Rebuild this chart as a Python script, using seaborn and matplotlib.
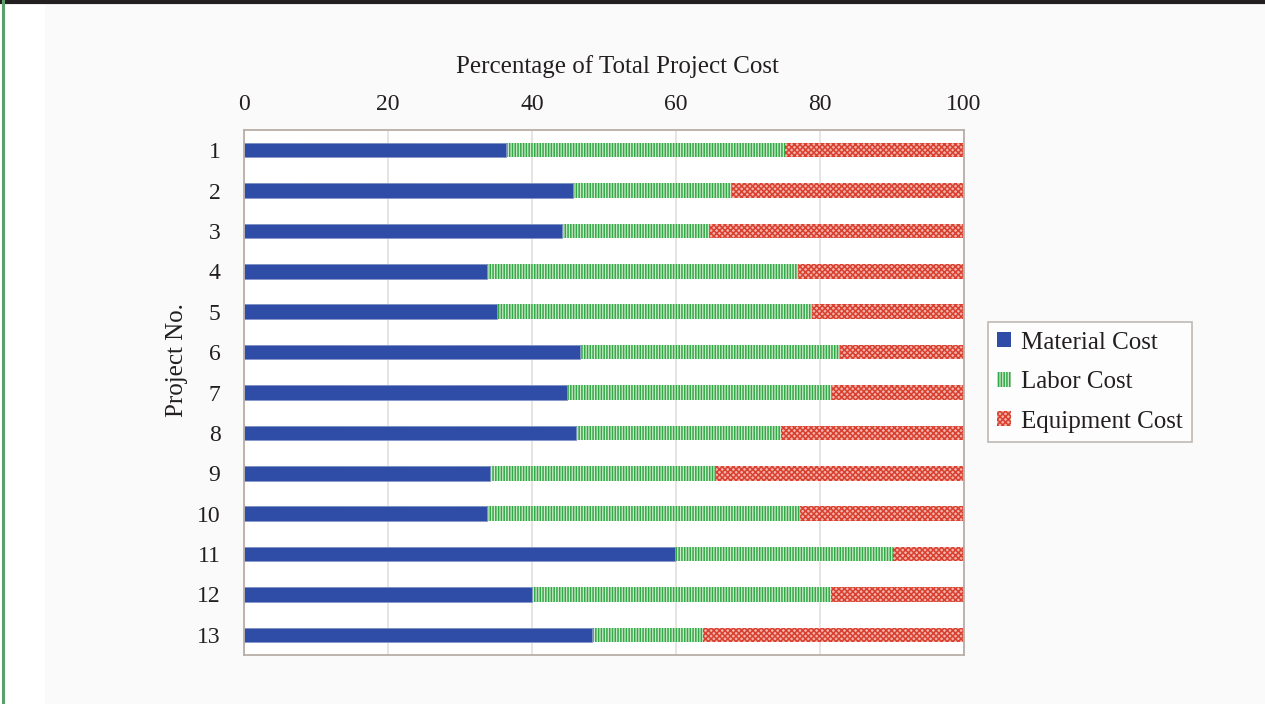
import matplotlib
matplotlib.use("Agg")
import matplotlib.pyplot as plt
from matplotlib.patches import Patch, Rectangle
from matplotlib.lines import Line2D
import seaborn as sns
import pandas as pd
import numpy as np

# Cost breakdown per project (percent of total project cost)
projects = ["1", "2", "3", "4", "5", "6", "7", "8", "9", "10", "11", "12", "13"]
material = [36.4, 45.7, 44.2, 33.8, 35.1, 46.6, 44.9, 46.1, 34.2, 33.7, 59.8, 40.0, 48.4]
labor = [38.7, 22.1, 20.5, 43.2, 43.8, 36.2, 36.8, 28.5, 31.4, 43.5, 30.3, 41.5, 15.4]
equipment = [24.9, 32.2, 35.3, 23.0, 21.1, 17.2, 18.3, 25.4, 34.4, 22.8, 9.9, 18.5, 36.2]
series_names = ["Material Cost", "Labor Cost", "Equipment Cost"]

sns.set_theme(style="white")
plt.rcParams["font.family"] = ["Liberation Serif", "DejaVu Serif"]
plt.rcParams["hatch.linewidth"] = 1.1

df = pd.DataFrame({"project": projects, "material": material,
                   "labor": labor, "equipment": equipment})
df["mat_lab"] = df["material"] + df["labor"]
df["total"] = df["mat_lab"] + df["equipment"]

fig = plt.figure(figsize=(12.65, 7.04), dpi=100, facecolor="#fafafa")
# page frame: white margin at left, dark rule on top, green rule on left
fig.patches.append(Rectangle((0, 0), 45 / 1265, 1, transform=fig.transFigure,
                             facecolor="white", edgecolor="none", zorder=0))
fig.lines.append(Line2D([0, 1], [1 - 1.5 / 704] * 2, transform=fig.transFigure,
                        color="#231f20", lw=3))
fig.lines.append(Line2D([2.5 / 1265] * 2, [0, 1], transform=fig.transFigure,
                        color="#5aa06c", lw=2.2))

ax = fig.add_axes([244 / 1265, 1 - 655 / 704, 720 / 1265, 525 / 704])
ax.set_facecolor("white")

styles = {
    "Material Cost": dict(facecolor="#2f4ca6", edgecolor="#8896cc", hatch=None, linewidth=0.6),
    "Labor Cost": dict(facecolor="#cfeccb", edgecolor="#33a848", hatch="||||||", linewidth=0.0),
    "Equipment Cost": dict(facecolor="#f2b3aa", edgecolor="#d9402f", hatch="xxxxxx", linewidth=0.0),
}

# stacked bars drawn as overlapping cumulative totals
layers = [("total", "Equipment Cost"), ("mat_lab", "Labor Cost"), ("material", "Material Cost")]
for col, name in layers:
    st = styles[name]
    sns.barplot(data=df, y="project", x=col, orient="h", ax=ax, width=0.36,
                color=st["facecolor"], saturation=1, errorbar=None)
    for bar in ax.patches[-len(df):]:
        bar.set_facecolor(st["facecolor"])
        bar.set_edgecolor(st["edgecolor"])
        bar.set_linewidth(st["linewidth"])
        if st["hatch"]:
            bar.set_hatch(st["hatch"])

ax.set_xlim(0, 100)
ax.set_ylim(12.5, -0.5)
ax.set_xticks([0, 20, 40, 60, 80, 100])
ax.xaxis.tick_top()
ax.xaxis.set_label_position("top")
ax.set_xlabel("Percentage of Total Project Cost", fontsize=18, color="#231f20")
ax.set_ylabel("Project No.", fontsize=18, color="#231f20")
ax.xaxis.set_label_coords(0.519, 1.108)
ax.yaxis.set_label_coords(-0.078, 0.562)
ax.tick_params(axis="x", length=0, pad=11, labelsize=17, labelcolor="#231f20")
ax.tick_params(axis="y", length=0, pad=17, labelsize=17, labelcolor="#231f20")
ax.grid(axis="x", color="#e2ddd9", lw=1.1)
ax.grid(axis="y", visible=False)
ax.set_axisbelow(True)
for sp in ax.spines.values():
    sp.set_visible(True)
    sp.set_color("#b9aea7")
    sp.set_linewidth(1.3)

handles = [Patch(facecolor=styles[n]["facecolor"], edgecolor=styles[n]["edgecolor"],
                 hatch=styles[n]["hatch"], linewidth=0) for n in series_names]
leg = ax.legend(handles, series_names, loc="upper left", bbox_to_anchor=(1.033, 0.634),
                borderaxespad=0, fontsize=18, frameon=True, fancybox=False,
                handlelength=0.55, handleheight=0.55, handletextpad=0.4,
                labelspacing=0.7, borderpad=0.38)
leg.get_frame().set_edgecolor("#b0a8a2")
leg.get_frame().set_linewidth(1.2)
leg.get_frame().set_facecolor("white")
for t in leg.get_texts():
    t.set_color("#231f20")

fig.savefig("out.png", dpi=100, facecolor=fig.get_facecolor())
